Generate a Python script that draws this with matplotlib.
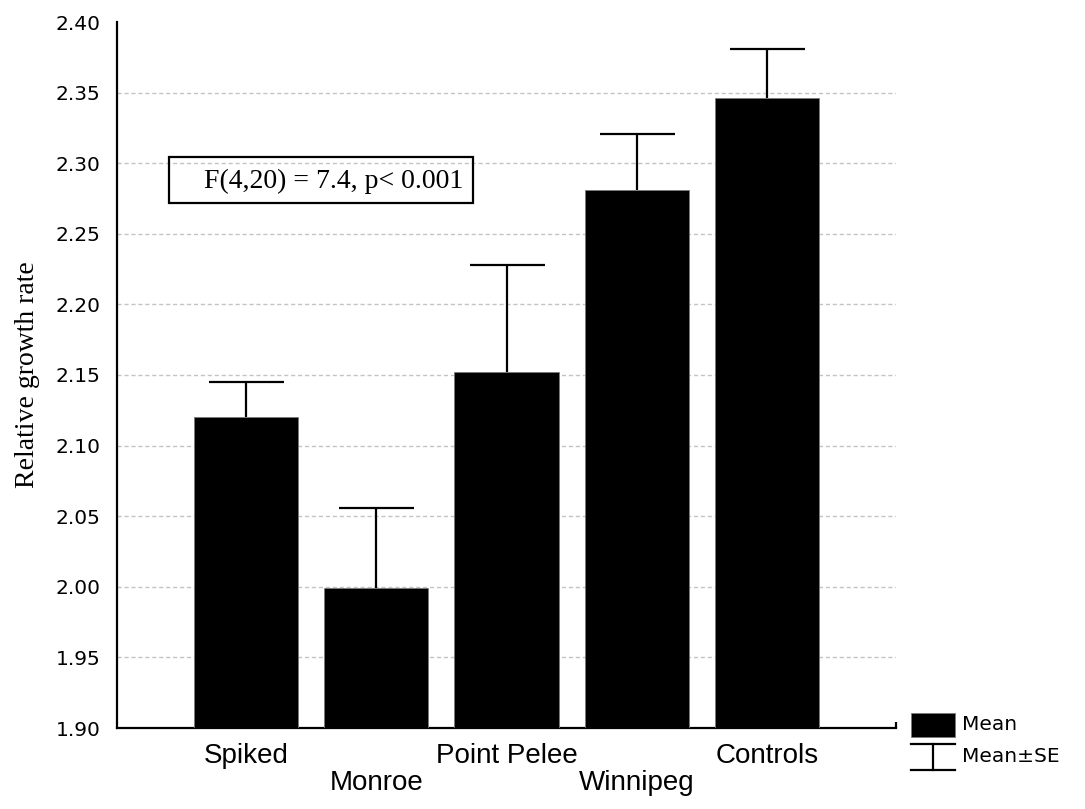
import matplotlib
matplotlib.use("Agg")
import matplotlib.pyplot as plt
from matplotlib.patches import Rectangle
from matplotlib.lines import Line2D

categories = ["Spiked", "Monroe", "Point Pelee", "Winnipeg", "Controls"]
means = [2.120, 1.999, 2.152, 2.281, 2.346]
se = [0.025, 0.057, 0.076, 0.040, 0.035]
yticks = [1.90, 1.95, 2.00, 2.05, 2.10, 2.15, 2.20, 2.25, 2.30, 2.35, 2.40]
ylabel = "Relative growth rate"
annotation = "F(4,20) = 7.4, p< 0.001"
legend_labels = ["Mean", "Mean\u00b1SE"]

W, H = 1085, 809
fig = plt.figure(figsize=(W / 100, H / 100), dpi=100)
ax = fig.add_axes([117 / W, 1 - 728 / H, (896 - 117) / W, (728 - 22) / H])

x = list(range(len(categories)))
ax.bar(x, means, width=0.8, color="black", edgecolor="#7a7a7a", linewidth=0.6, zorder=3)
eb = ax.errorbar(x, means, yerr=[[0] * len(se), se], fmt="none", ecolor="black",
                 elinewidth=1.6, capsize=27, capthick=1.6, zorder=4)
# keep only the upper caps
eb[1][0].set_visible(False)

ax.set_xlim(-0.99, 4.99)
ax.set_ylim(1.90, 2.40)
ax.set_yticks(yticks)
ax.set_yticklabels([f"{v:.2f}" for v in yticks], family="DejaVu Sans", fontsize=14.5)
ax.set_xticks(x)
ax.set_xticklabels(categories, family="Liberation Sans", fontsize=20)
ax.tick_params(axis="both", which="major", length=0)
ax.tick_params(axis="y", pad=12)
for i, t in enumerate(ax.xaxis.get_major_ticks()):
    t.set_pad(11 if i % 2 == 0 else 30)
ax.set_xticks([4.99], minor=True)
ax.tick_params(axis="x", which="minor", direction="in", length=4, width=1.6)
ax.set_yticks([2.40], minor=True)
ax.tick_params(axis="y", which="minor", direction="out", length=3, width=1.2)

ax.yaxis.grid(True, which="major", color="#c4c4c4", linestyle=(0, (3, 2)), linewidth=1.0, zorder=0)
ax.set_axisbelow(True)
gl = ax.get_ygridlines()
gl[0].set_visible(False)
gl[-1].set_visible(False)

for s in ["top", "right"]:
    ax.spines[s].set_visible(False)
for s in ["left", "bottom"]:
    ax.spines[s].set_linewidth(1.6)
    ax.spines[s].set_color("black")

ax.set_ylabel(ylabel, family="Liberation Serif", fontsize=20, labelpad=11)

# annotation box
fig.patches.append(Rectangle((169 / W, 1 - 203 / H), 304 / W, 46 / H, transform=fig.transFigure,
                             fill=False, edgecolor="black", linewidth=1.6))
fig.text(463 / W, 1 - 181 / H, annotation, ha="right", va="center",
         family="Liberation Serif", fontsize=20)

# legend (outside axes, lower right)
fig.patches.append(Rectangle((911 / W, 1 - 737 / H), 44 / W, 24 / H, transform=fig.transFigure,
                             facecolor="black", edgecolor="#7a7a7a", linewidth=0.6))
for (x0, y0, x1, y1) in [(911, 744, 955, 744), (933, 744, 933, 770), (911, 770, 955, 770)]:
    fig.lines.append(Line2D([x0 / W, x1 / W], [1 - y0 / H, 1 - y1 / H], transform=fig.transFigure,
                            color="black", linewidth=1.6))
fig.text(962 / W, 1 - 725 / H, legend_labels[0], ha="left", va="center",
         family="DejaVu Sans", fontsize=14.5)
fig.text(962 / W, 1 - 757 / H, legend_labels[1], ha="left", va="center",
         family="DejaVu Sans", fontsize=14.5)

fig.savefig("out.png", dpi=100, facecolor="white")
